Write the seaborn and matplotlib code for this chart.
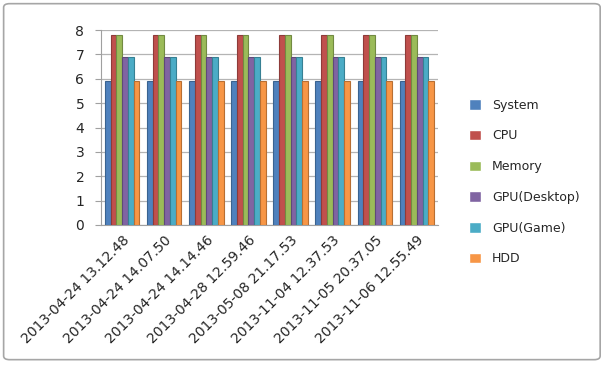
import pandas as pd
import matplotlib
matplotlib.use("Agg")
import matplotlib.pyplot as plt
import seaborn as sns
from matplotlib.patches import FancyBboxPatch

# дані
dates = ["2013-04-24 13.12.48", "2013-04-24 14.07.50", "2013-04-24 14.14.46",
         "2013-04-28 12.59.46", "2013-05-08 21.17.53", "2013-11-04 12.37.53",
         "2013-11-05 20.37.05", "2013-11-06 12.55.49"]
series = ["System", "CPU", "Memory", "GPU(Desktop)", "GPU(Game)", "HDD"]
system = [5.9] * 8
cpu = [7.8] * 8
memory = [7.8] * 8
gpu_desktop = [6.9] * 8
gpu_game = [6.9] * 8
hdd = [5.9] * 8
colors = ["#4F81BD", "#C0504D", "#9BBB59", "#8064A2", "#4BACC6", "#F79646"]
edges = ["#3A6390", "#8E3B39", "#728A42", "#5E4A78", "#378093", "#B86F33"]

rows = []
for name, vals in zip(series, [system, cpu, memory, gpu_desktop, gpu_game, hdd]):
    for d, v in zip(dates, vals):
        rows.append({"Date": d, "Series": name, "Value": v})
df = pd.DataFrame(rows)

sns.set_style("white")
plt.rcParams["font.family"] = ["DejaVu Sans"]

fig = plt.figure(figsize=(6.05, 3.67), dpi=100)
ax = fig.add_axes([0.167, 0.387, 0.557, 0.531])

# рамка області діаграми
fig.patches.append(FancyBboxPatch((0.006, 0.02), 0.986, 0.97,
                                  boxstyle="round,pad=0,rounding_size=0.01",
                                  transform=fig.transFigure, fill=False,
                                  edgecolor="#A6A6A6", linewidth=1.2))

sns.barplot(data=df, x="Date", y="Value", hue="Series", order=dates,
            hue_order=series, palette=colors, width=0.82, gap=0,
            saturation=1, ax=ax, legend=True, zorder=3)

for cont, ec in zip(ax.containers, edges):
    for bar in cont:
        bar.set_edgecolor(ec)
        bar.set_linewidth(0.8)

ax.set_ylim(0, 8)
ax.set_xlim(-0.5, len(dates) - 0.5)
ax.set_yticks(range(0, 9))
ax.yaxis.grid(True, color="#B4B4B4", linewidth=0.9, zorder=0)
ax.set_axisbelow(True)
for s in ["top", "right"]:
    ax.spines[s].set_visible(False)
ax.spines["left"].set_color("#A0A0A0")
ax.spines["bottom"].set_color("#A0A0A0")

ax.set_xticks(range(len(dates)))
ax.set_xticklabels(dates, rotation=45, ha="right", va="top",
                   rotation_mode="anchor", fontsize=10)
ax.tick_params(axis="x", length=0, pad=6)
ax.tick_params(axis="y", labelsize=10, length=4, color="#A0A0A0", pad=8,
               left=True)
ax.set_xlabel("")
ax.set_ylabel("")

leg = ax.legend(loc="center left", bbox_to_anchor=(1.06, 0.22), frameon=False,
                fontsize=9, handlelength=0.9, handleheight=0.9,
                labelspacing=1.42, handletextpad=0.9)

fig.savefig("out.png", dpi=100)
